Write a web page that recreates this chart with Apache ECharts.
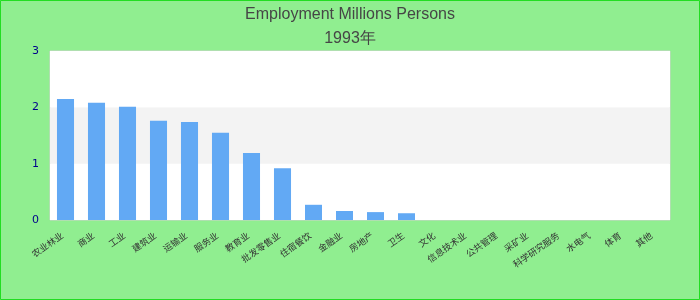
<!DOCTYPE html>
<html>
<head>
<meta charset="utf-8">
<script src="https://cdn.jsdelivr.net/npm/echarts@6/dist/echarts.min.js"></script>
<style>
html,body{margin:0;padding:0;background:#90ee90;}
#c{width:700px;height:300px;}
</style>
</head>
<body>
<div id="c"></div>
<script>
const titleText = 'Employment Millions Persons';
const subtitleText = '1993年';
const categories = ['农业林业','商业','工业','建筑业','运输业','服务业','教育业','批发零售业','住宿餐饮','金融业','房地产','卫生','文化','信息技术业','公共管理','采矿业','科学研究服务','水电气','体育','其他'];
const values = [2.15, 2.08, 2.01, 1.76, 1.74, 1.55, 1.19, 0.92, 0.27, 0.16, 0.14, 0.12, 0, 0, 0, 0, 0, 0, 0, 0];
const yTicks = [0, 1, 2, 3];

const chart = echarts.init(document.getElementById('c'), null, {renderer: 'canvas'});
chart.setOption({
  backgroundColor: '#90ee90',
  animation: false,
  title: [
    {text: titleText, left: 'center', top: 2,
     textStyle: {fontFamily: 'Liberation Sans, Arial, sans-serif', fontSize: 16, fontWeight: 'normal', color: '#464646'}},
    {text: subtitleText, left: 'center', top: 26,
     textStyle: {fontFamily: 'Liberation Sans, Arial, sans-serif', fontSize: 16, fontWeight: 'normal', color: '#464646'}}
  ],
  graphic: [{
    type: 'rect', silent: true, z: 100,
    shape: {x: 0.5, y: 0.5, width: 699, height: 299},
    style: {fill: 'none', stroke: '#22dd22', lineWidth: 1}
  }],
  grid: {left: 50, right: 30, top: 51, bottom: 80, show: true, backgroundColor: '#ffffff', borderColor: '#d0d0d0', borderWidth: 1},
  xAxis: {
    type: 'category',
    data: categories,
    axisLine: {show: false},
    axisTick: {show: false},
    axisLabel: {rotate: 35, interval: 0, fontSize: 9, color: '#333', margin: 12, padding: [0, 4, 0, 0],
                fontFamily: 'Noto Sans CJK SC, sans-serif'}
  },
  yAxis: {
    type: 'value',
    min: yTicks[0], max: yTicks[yTicks.length - 1], interval: 1,
    axisLine: {show: false},
    axisTick: {show: false},
    splitLine: {show: false},
    splitArea: {show: true, areaStyle: {color: ['#ffffff', '#f3f3f3']}},
    axisLabel: {fontSize: 11, color: '#00008b', margin: 11, fontFamily: 'DejaVu Sans, sans-serif'}
  },
  series: [{
    type: 'bar',
    data: values,
    barWidth: '55%',
    itemStyle: {color: '#62a9f4'}
  }]
});
</script>
</body>
</html>
